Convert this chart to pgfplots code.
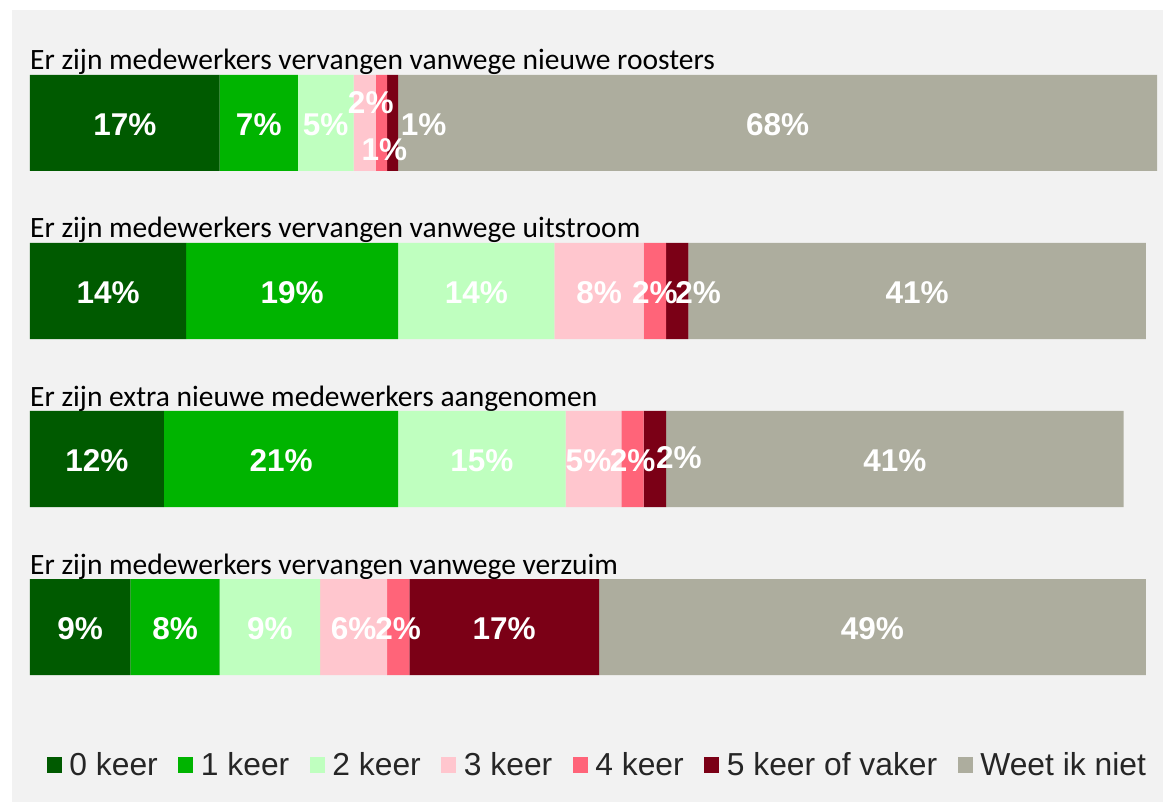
\documentclass[border=0pt]{standalone}
\usepackage{pgfplots}
\pgfplotsset{compat=1.18}
\usepackage{fontspec}
\setmainfont{Carlito}
\newfontfamily\arial{Liberation Sans}
\definecolor{bg}{HTML}{F2F2F2}
\definecolor{c0}{HTML}{005A00}
\definecolor{c1}{HTML}{00B400}
\definecolor{c2}{HTML}{BFFFBF}
\definecolor{c3}{HTML}{FFC6CE}
\definecolor{c4}{HTML}{FF6479}
\definecolor{c5}{HTML}{7B0016}
\definecolor{c6}{HTML}{ADAD9E}
\definecolor{legtext}{HTML}{262626}
\tikzset{
  lbl/.style={anchor=base, yshift=-13pt, text=white, font=\arial\bfseries\fontsize{31.5}{37}\selectfont, inner sep=0pt},
  ttl/.style={anchor=base west, yshift=53pt, inner sep=0pt, font=\fontsize{29.5}{35}\selectfont, text=black},
}
\begin{document}
\begin{tikzpicture}
\fill[white] (0pt,0pt) rectangle (1163pt,802pt);
\fill[bg] (12pt,0pt) rectangle (1163pt,792pt);
\begin{axis}[
  at={(30pt,91pt)}, anchor=south west,
  scale only axis, width=1127pt, height=672pt,
  xbar stacked, bar width=96pt,
  xmin=0, xmax=101, ymin=-0.5, ymax=3.5, y dir=reverse,
  hide axis, clip=false,
  legend columns=-1,
  legend cell align=left,
  legend image code/.code={\fill[#1] (0pt,-8pt) rectangle (15pt,8pt);},
  legend style={at={(0.01508,-0.0804)}, anchor=west, draw=none, fill=none,
    inner sep=0pt, outer sep=0pt,
    font=\arial\fontsize{31.8}{38}\selectfont, text=legtext,
    nodes={inner sep=0pt},
    /tikz/every odd column/.append style={column sep=7.5pt},
    /tikz/every even column/.append style={column sep=20.6pt}},
]
\addplot[fill=c0, draw=none] coordinates {(17,0) (14,1) (12,2) (9,3)};
\addplot[fill=c1, draw=none] coordinates {(7,0) (19,1) (21,2) (8,3)};
\addplot[fill=c2, draw=none] coordinates {(5,0) (14,1) (15,2) (9,3)};
\addplot[fill=c3, draw=none] coordinates {(2,0) (8,1) (5,2) (6,3)};
\addplot[fill=c4, draw=none] coordinates {(1,0) (2,1) (2,2) (2,3)};
\addplot[fill=c5, draw=none] coordinates {(1,0) (2,1) (2,2) (17,3)};
\addplot[fill=c6, draw=none] coordinates {(68,0) (41,1) (41,2) (49,3)};
\legend{0 keer, 1 keer, 2 keer, 3 keer, 4 keer, 5 keer of vaker, Weet ik niet}
% titles
\node[ttl] at (axis cs:0,0) {Er zijn medewerkers vervangen vanwege nieuwe roosters};
\node[ttl] at (axis cs:0,1) {Er zijn medewerkers vervangen vanwege uitstroom};
\node[ttl] at (axis cs:0,2) {Er zijn extra nieuwe medewerkers aangenomen};
\node[ttl] at (axis cs:0,3) {Er zijn medewerkers vervangen vanwege verzuim};
% label anchors
\coordinate (a1) at (axis cs:8.5,0);
\coordinate (a2) at (axis cs:20.5,0);
\coordinate (a3) at (axis cs:26.5,0);
\coordinate (a4) at (axis cs:30,0);
\coordinate (a5) at (axis cs:31.5,0);
\coordinate (a6) at (axis cs:32.5,0);
\coordinate (a7) at (axis cs:67,0);
\coordinate (b1) at (axis cs:7,1);
\coordinate (b2) at (axis cs:23.5,1);
\coordinate (b3) at (axis cs:40,1);
\coordinate (b4) at (axis cs:51,1);
\coordinate (b5) at (axis cs:56,1);
\coordinate (b6) at (axis cs:58,1);
\coordinate (b7) at (axis cs:79.5,1);
\coordinate (c1) at (axis cs:6,2);
\coordinate (c2) at (axis cs:22.5,2);
\coordinate (c3) at (axis cs:40.5,2);
\coordinate (c4) at (axis cs:50.5,2);
\coordinate (c5) at (axis cs:54,2);
\coordinate (c6) at (axis cs:56,2);
\coordinate (c7) at (axis cs:77.5,2);
\coordinate (d1) at (axis cs:4.5,3);
\coordinate (d2) at (axis cs:13,3);
\coordinate (d3) at (axis cs:21.5,3);
\coordinate (d4) at (axis cs:29,3);
\coordinate (d5) at (axis cs:33,3);
\coordinate (d6) at (axis cs:42.5,3);
\coordinate (d7) at (axis cs:75.5,3);
\end{axis}
% bar 1
\node[lbl] at (a1) {17\%};
\node[lbl] at (a2) {7\%};
\node[lbl] at (a3) {5\%};
\node[lbl, xshift=6pt, yshift=22pt] at (a4) {2\%};
\node[lbl, xshift=3pt, yshift=-25pt] at (a5) {1\%};
\node[lbl, xshift=31pt] at (a6) {1\%};
\node[lbl] at (a7) {68\%};
% bar 2
\node[lbl] at (b1) {14\%};
\node[lbl] at (b2) {19\%};
\node[lbl] at (b3) {14\%};
\node[lbl] at (b4) {8\%};
\node[lbl] at (b5) {2\%};
\node[lbl, xshift=21pt] at (b6) {2\%};
\node[lbl] at (b7) {41\%};
% bar 3
\node[lbl] at (c1) {12\%};
\node[lbl] at (c2) {21\%};
\node[lbl] at (c3) {15\%};
\node[lbl, xshift=-5pt] at (c4) {5\%};
\node[lbl] at (c5) {2\%};
\node[lbl, xshift=24pt, yshift=3pt] at (c6) {2\%};
\node[lbl] at (c7) {41\%};
% bar 4
\node[lbl] at (d1) {9\%};
\node[lbl] at (d2) {8\%};
\node[lbl] at (d3) {9\%};
\node[lbl] at (d4) {6\%};
\node[lbl] at (d5) {2\%};
\node[lbl] at (d6) {17\%};
\node[lbl] at (d7) {49\%};
\end{tikzpicture}
\end{document}
